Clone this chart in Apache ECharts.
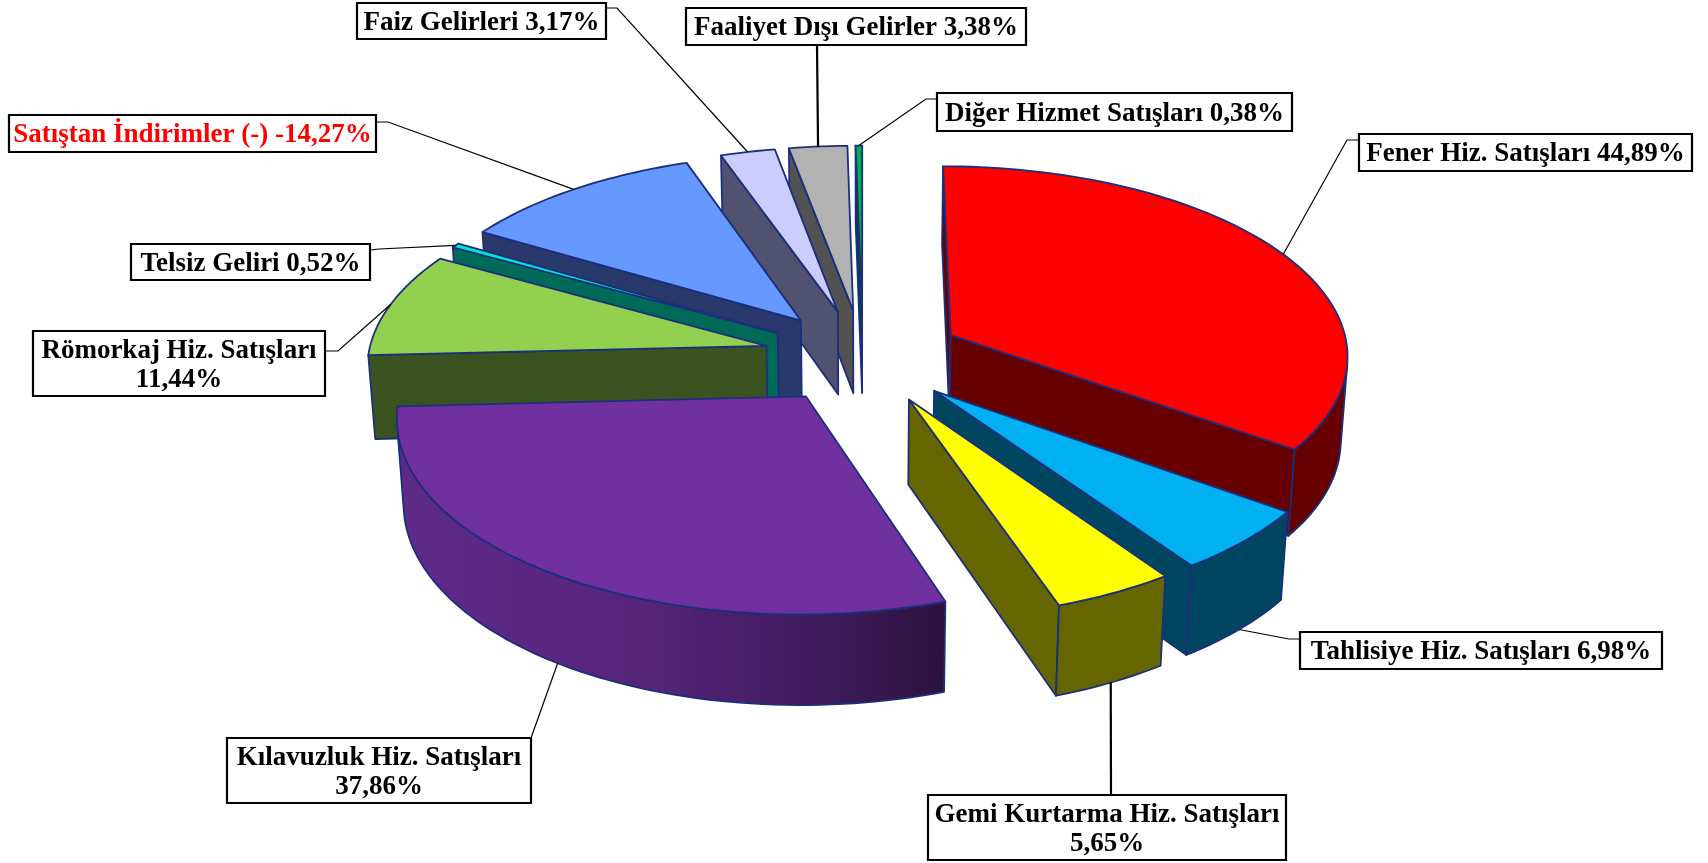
<!DOCTYPE html>
<html>
<head>
<meta charset="utf-8">
<script src="https://cdn.jsdelivr.net/npm/echarts@6/dist/echarts.min.js"></script>
<style>html,body{margin:0;padding:0;background:#fff}#c{width:1708px;height:863px}</style>
</head>
<body>
<div id="c"></div>
<script>
// ---- data, clockwise from 12 o'clock ----
var categories = ['Fener Hiz. Satışları','Tahlisiye Hiz. Satışları','Gemi Kurtarma Hiz. Satışları','Kılavuzluk Hiz. Satışları','Römorkaj Hiz. Satışları','Telsiz Geliri','Satıştan İndirimler (-)','Faiz Gelirleri','Faaliyet Dışı Gelirler','Diğer Hizmet Satışları'];
var values = [44.89,6.98,5.65,37.86,11.44,0.52,-14.27,3.17,3.38,0.38];
var topColors = ['#FF0000','#00B0F0','#FFFF00','#7030A0','#92D050','#00E6D2','#6699FF','#CCCCFF','#B2B2B2','#00B050'];
var wallColors = ['#660000','#004661','#666600',null,'#3B5320','#006A58','#29396B','#515270','#525252','#004A22'];

// ---- label boxes [left, top, right, bottom] and leader elbows (style / layout) ----
var boxes = [[1359,134,1692,171],[1300,632,1662,669],[928,795,1286,860],[227,738,531,803],[33,331,325,396],[131,244,370,280],[9,115,376,152],[357,3,606,39],[686,8,1026,45],[937,93,1292,131]];
var leaderStarts = [[[1359,140],[1347,140]],[[1300,639],[1289,639]],[[1111,795]],[[531,738]],[[325,351],[338,351]],[[370,250],[379,249]],[[376,122],[388,122]],[[606,8],[617,8]],[[817,45]],[[937,99],[926,99]]];
var leaderWidths = [1.2,1.2,2.2,1.2,1.2,1.2,1.2,1.2,2.2,1.2];
var twoLine = [false,false,true,true,true,false,false,false,false,false];
var labelColors = ['#000','#000','#000','#000','#000','#000','#FF0000','#000','#000','#000'];

// ---- 3D pie projection ----
var CX=863, CY=356.5, SX=398.5, SY=189, SZ=85, KY=0.096, KZ=-0.0142, EXPLODE=0.25;
var OUTLINE='#1B2F7C';
var rad=Math.PI/180;
function project(x,y,z){var w=1+KY*y+KZ*z;return [CX+SX*x/w, CY-(SY*y+SZ*z)/w];}

var total=values.reduce(function(a,v){return a+Math.abs(v);},0);
var slices=[],acc=0;
values.forEach(function(v,i){
  var a0=acc/total*360; acc+=Math.abs(v); var a1=acc/total*360, mid=(a0+a1)/2;
  slices.push({i:i,a0:a0,a1:a1,mid:mid,ax:EXPLODE*Math.sin(mid*rad),ay:EXPLODE*Math.cos(mid*rad)});
});
function rim(s,deg,z){return project(s.ax+Math.sin(deg*rad),s.ay+Math.cos(deg*rad),z);}
function area(p){var t=0;for(var i=0;i<p.length;i++){var q=p[(i+1)%p.length];t+=p[i][0]*q[1]-q[0]*p[i][1];}return t;}
var order=slices.slice().sort(function(a,b){return Math.cos(b.mid*rad)-Math.cos(a.mid*rad);}).map(function(s){return s.i;});

function poly(points,fill){return {type:'polygon',shape:{points:points},style:{fill:fill,stroke:OUTLINE,lineWidth:1.8,lineJoin:'round'}};}

function renderSlice(params,api){
  var s=slices[api.value(0)], kids=[], top=[], n=Math.max(2,Math.ceil((s.a1-s.a0)/1.5));
  var apexT=project(s.ax,s.ay,0), apexB=project(s.ax,s.ay,-1);
  var wall=wallColors[s.i];
  if(wall===null){
    wall=new echarts.graphic.LinearGradient(0,0,1,0,[{offset:0,color:'#5F2B89'},{offset:0.45,color:'#55257A'},{offset:0.75,color:'#401B5E'},{offset:1,color:'#2D123F'}]);
  }
  // radial start wall
  var q0=[apexT,rim(s,s.a0,0),rim(s,s.a0,-1),apexB];
  if(area(q0)<0) kids.push(poly(q0,wall));
  // radial end wall
  var q1=[apexT,rim(s,s.a1,0),rim(s,s.a1,-1),apexB];
  if(area(q1)>0) kids.push(poly(q1,wall));
  // outer rim wall (visible arc only)
  var upper=[],lower=[];
  for(var j=0;j<n;j++){
    var d0=s.a0+(s.a1-s.a0)*j/n,d1=s.a0+(s.a1-s.a0)*(j+1)/n;
    var t0=rim(s,d0,0),t1=rim(s,d1,0),b0=rim(s,d0,-1),b1=rim(s,d1,-1);
    if(area([t0,t1,b1,b0])<0){
      if(!upper.length){upper.push(t0);lower.push(b0);}
      upper.push(t1);lower.push(b1);
    }
  }
  if(upper.length) kids.push(poly(upper.concat(lower.reverse()),wall));
  // top face
  top.push(apexT);
  for(var k=0;k<=n;k++) top.push(rim(s,s.a0+(s.a1-s.a0)*k/n,0));
  kids.push(poly(top,topColors[s.i]));
  return {type:'group',children:kids};
}

function labelText(i){
  var pct=values[i].toFixed(2).replace('.',',')+'%';
  return categories[i]+(twoLine[i]?'\n':' ')+pct;
}
function renderLabel(params,api){
  var i=api.value(0), s=slices[i], b=boxes[i];
  var anchor=Math.cos(s.mid*rad)<0 ? rim(s,s.mid,-1) : rim(s,s.mid,0);
  var pts=leaderStarts[i].concat([anchor]);
  return {type:'group',children:[
    {type:'polyline',shape:{points:pts},style:{fill:'none',stroke:'#000',lineWidth:leaderWidths[i]}},
    {type:'rect',shape:{x:b[0],y:b[1],width:b[2]-b[0],height:b[3]-b[1]},style:{fill:'#fff',stroke:'#000',lineWidth:2.2}},
    {type:'text',x:(b[0]+b[2])/2,y:(b[1]+b[3])/2+2,style:{text:labelText(i),fill:labelColors[i],font:'bold 27px "Liberation Serif"',align:'center',verticalAlign:'middle',lineHeight:29}}
  ]};
}

var chart=echarts.init(document.getElementById('c'),null,{renderer:'canvas'});
chart.setOption({
  animation:false,
  backgroundColor:'#fff',
  series:[
    {type:'custom',coordinateSystem:'none',renderItem:renderSlice,data:order.map(function(i){return [i,Math.abs(values[i])];}),silent:true,clip:false,z:2},
    {type:'custom',coordinateSystem:'none',renderItem:renderLabel,data:values.map(function(v,i){return [i,v];}),silent:true,clip:false,z:3}
  ]
});
</script>
</body>
</html>
